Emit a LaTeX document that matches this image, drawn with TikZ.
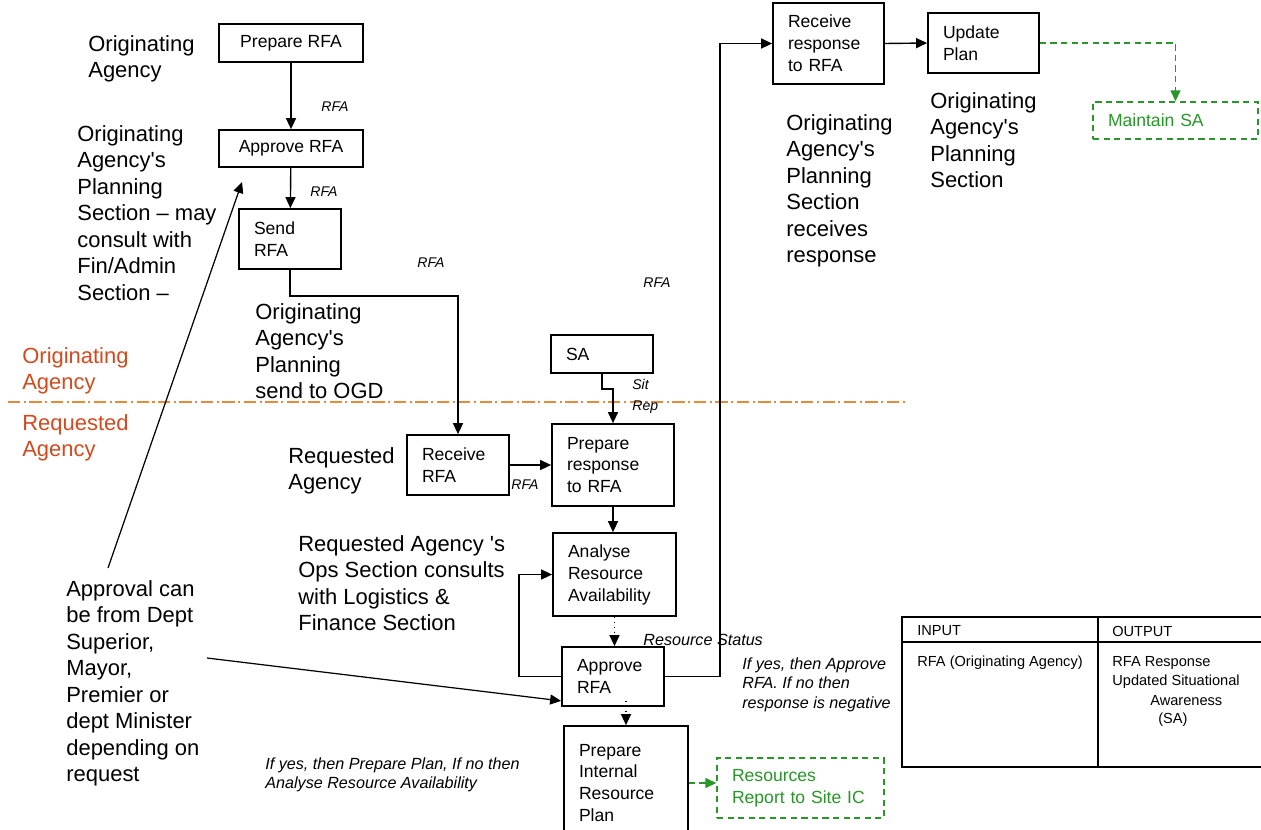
\documentclass[tikz,border=0pt]{standalone}
\usepackage{fontspec}
\setmainfont{Liberation Sans}
\usetikzlibrary{arrows.meta,calc}
\definecolor{sagreen}{RGB}{40,150,40}
\definecolor{laneorange}{RGB}{228,140,60}
\definecolor{lanetext}{RGB}{210,75,30}
\newcommand\bigtxt{\fontsize{12.5}{15.1}\selectfont}
\newcommand\boxtxt{\fontsize{10}{12.5}\selectfont}
\newcommand\lbltxt{\fontsize{8}{11.8}\selectfont\itshape}
\newcommand\condtxt{\fontsize{9.2}{11.3}\selectfont\itshape}
\newcommand\tabtxt{\fontsize{8.3}{10.8}\selectfont}
\newcommand\apos{\textquotesingle}
\tikzset{
	procbox/.style={draw, line width=1pt, font=\boxtxt, align=left, inner xsep=0.3cm, inner ysep=0pt},
	sabox/.style={procbox, draw=sagreen, text=sagreen, line width=0.8pt, dash pattern=on 3.5pt off 2.5pt},
	note/.style={font=\bigtxt, align=left, anchor=north west, inner sep=0pt},
	flowlbl/.style={font=\lbltxt, align=left, inner sep=0pt},
	arr/.style={-{Triangle[length=0.22cm,width=0.2cm]}, line width=0.8pt},
	saarr/.style={arr, draw=sagreen, dash pattern=on 3.5pt off 2.5pt}
}

\begin{document}
\begin{tikzpicture}[x=0.02cm,y=-0.02cm]
	\clip (0,0) rectangle (1261,829);
	\fill[white] (0,0) rectangle (1261,829);

	% agency divider
	\draw[laneorange, line width=0.7pt, dash pattern=on 7pt off 2pt on 1.2pt off 2pt] (8,402) -- (905,402);
	\node[note, text=lanetext] (laneorig) at (22,347) {Originating\\Agency};
	\node[note, text=lanetext] (lanereq) at (22,414) {Requested\\Agency};

	% originating agency steps
	\node[procbox, align=center, minimum width=2.88cm, minimum height=0.76cm] (prepRFA) at (291,43) {Prepare RFA};
	\node[procbox, align=center, minimum width=2.88cm, minimum height=0.74cm] (apprRFA) at (291,148.5) {Approve RFA};
	\node[procbox, text width=1.44cm, minimum height=1.2cm] (sendRFA) at (290,239) {Send\\RFA};

	% requested agency steps
	\node[procbox, text width=1.44cm, minimum height=0.76cm] (sitSA) at (602,354) {SA};
	\node[procbox, text width=1.44cm, minimum height=1.2cm] (recvRFA) at (458,465) {Receive\\RFA};
	\node[procbox, text width=1.84cm, minimum height=1.64cm] (prepResp) at (613,465) {Prepare\\response\\to RFA};
	\node[procbox, text width=1.86cm, minimum height=1.66cm] (analyse) at (614.5,574.5) {Analyse\\Resource\\Availability};
	\node[procbox, text width=1.44cm, minimum height=1.18cm] (apprRFA2) at (613,676.5) {Approve\\RFA};
	\node[procbox, text width=1.88cm, minimum height=2.28cm] (prepPlan) at (626,783) {Prepare\\Internal\\Resource\\Plan};
	\node[sabox, text width=2.74cm, minimum height=1.2cm] (resRep) at (800.5,788) {Resources\\Report to Site IC};

	% back at originating agency
	\node[procbox, text width=1.62cm, minimum height=1.62cm] (recvResp) at (828.5,43.5) {Receive\\response\\to RFA};
	\node[procbox, text width=1.62cm, minimum height=1.2cm] (updPlan) at (983.5,43) {Update\\Plan};
	\node[sabox, text width=2.7cm, minimum height=0.74cm] (maintSA) at (1175.5,120.5) {Maintain SA};

	% notes
	\node[note] (noteOrig) at (88,35) {Originating\\Agency};
	\node[note] (notePlan) at (77,125) {Originating\\Agency\apos s\\Planning\\Section -- may\\consult with\\Fin/Admin\\Section --};
	\node[note] (noteSend) at (255,303) {Originating\\Agency\apos s\\Planning\\send to OGD};
	\node[note] (noteReq) at (288,447) {Requested\\Agency};
	\node[note] (noteOps) at (298,535) {Requested Agency \apos s\\Ops Section consults\\with Logistics \&\\Finance Section};
	\node[note] (noteApproval) at (66,580) {Approval can\\be from Dept\\Superior,\\Mayor,\\Premier or\\dept Minister\\depending on\\request};
	\node[note] (noteRecv) at (786,114) {Originating\\Agency\apos s\\Planning\\Section\\receives\\response};
	\node[note] (noteUpd) at (930,92) {Originating\\Agency\apos s\\Planning\\Section};

	% flow labels
	\node[flowlbl] (lblA) at (335,107) {RFA};
	\node[flowlbl] (lblB) at (324,192) {RFA};
	\node[flowlbl] (lblC) at (431,263) {RFA};
	\node[flowlbl] (lblD) at (657,283) {RFA};
	\node[flowlbl] (lblE) at (525,485) {RFA};
	\node[flowlbl, anchor=north west] (lblSit) at (632,379) {Sit\\Rep};
	\node[font=\condtxt, inner sep=0pt, anchor=west] (lblStatus) at (643,640) {Resource Status};
	\node[font=\condtxt, align=left, inner sep=0pt, anchor=north west] (condAppr) at (742,657) {If yes, then Approve\\RFA. If no then\\response is negative};
	\node[font=\condtxt, align=left, inner sep=0pt, anchor=north west] (condPlan) at (265,757) {If yes, then Prepare Plan, If no then\\Analyse Resource Availability};

	% connectors
	\draw[arr] (prepRFA) -- (apprRFA);
	\draw[arr] (apprRFA) -- (sendRFA);
	\draw[arr] (sendRFA.south) -- ++(0,26) -| (recvRFA.north);
	\draw[arr] (sitSA.south) -- ++(0,15) -| (prepResp.north);
	\draw[arr] (recvRFA.east) -- (prepResp.west);
	\draw[arr] (prepResp.south) -- (prepResp.south |- analyse.north);
	\draw[arr, dotted] (analyse.south) -- (analyse.south |- apprRFA2.north);
	\draw[arr] (apprRFA2.west) -- ++(-42,0) |- (analyse.west);
	\draw[arr] (apprRFA2.east) -- ++(55,0) |- (recvResp.west);
	\draw[arr, dotted] (apprRFA2.south -| prepPlan.north) ++(0,-6) -- (prepPlan.north);
	\draw[saarr] (prepPlan.east) -- (prepPlan.east -| resRep.west);
	\draw[arr] (recvResp.east) -- (updPlan.west);
	\draw[saarr] (updPlan.east) -| (maintSA.north);

	% approval pointers
	\coordinate (apprFoot) at (108,568);
	\coordinate (apprHead) at (242,182);
	\coordinate (mayorFoot) at (207,658);
	\draw[arr, line width=0.7pt] (apprFoot) -- (apprHead);
	\draw[arr, line width=0.7pt] (mayorFoot) -- ([yshift=0.12cm]apprRFA2.south west);

	% input / output table
	\draw[line width=0.9pt] (902,617) rectangle (1275,767);
	\draw[line width=0.9pt] (902,642) -- (1275,642);
	\draw[line width=0.9pt] (1098,617) -- (1098,767);
	\node[font=\tabtxt, inner sep=0pt, anchor=west] (tabIn) at (917,631) {INPUT};
	\node[font=\tabtxt, inner sep=0pt, anchor=west] (tabOut) at (1112,631) {OUTPUT};
	\node[font=\tabtxt, inner sep=0pt, anchor=west] (tabInVal) at (917,663) {RFA (Originating Agency)};
	\node[font=\tabtxt, inner sep=0pt, anchor=west] (tabOutA) at (1112,663) {RFA Response};
	\node[font=\tabtxt, inner sep=0pt, anchor=west] (tabOutB) at (1112,682) {Updated Situational};
	\node[font=\tabtxt, inner sep=0pt, anchor=west] (tabOutC) at (1150,701) {Awareness};
	\node[font=\tabtxt, inner sep=0pt, anchor=west] (tabOutD) at (1158,720) {(SA)};
\end{tikzpicture}
\end{document}
